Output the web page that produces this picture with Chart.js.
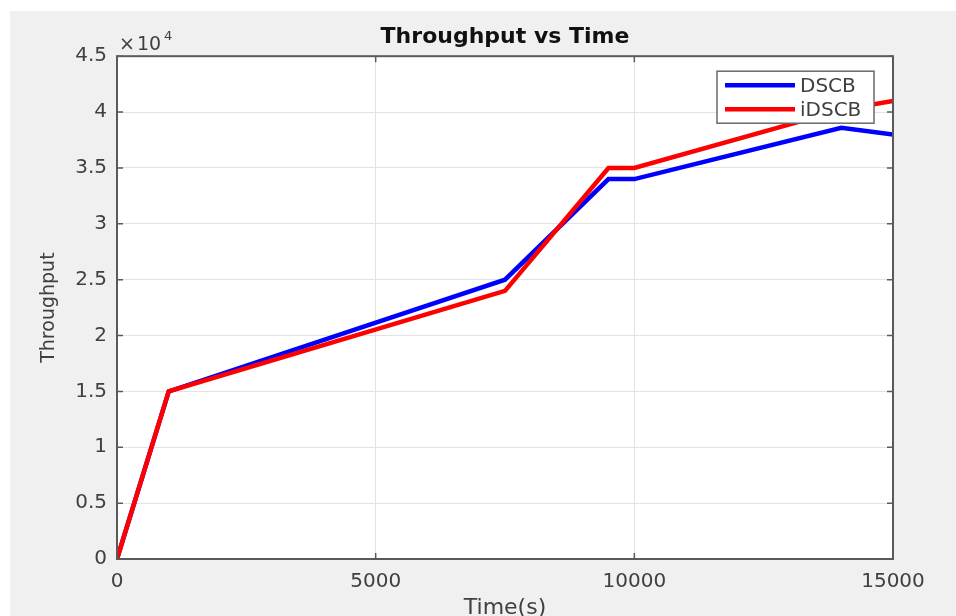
<!DOCTYPE html>
<html>
<head>
<meta charset="utf-8">
<script src="https://cdn.jsdelivr.net/npm/chart.js@4.4.1/dist/chart.umd.min.js"></script>
<style>
  html, body { margin: 0; padding: 0; background: #ffffff; }
  #wrap { width: 956px; height: 616px; }
</style>
</head>
<body>
<div id="wrap"><canvas id="tpChart" width="956" height="616"></canvas></div>
<script>
// values
const timePoints = [0, 1000, 7500, 9500, 10000, 14000, 15000];
const dscbValues = [0, 15000, 25000, 34000, 34000, 38600, 38000];
const idscbValues = [0, 15000, 24000, 35000, 35000, 40200, 41000];
const seriesNames = ['DSCB', 'iDSCB'];
const xTickValues = [0, 5000, 10000, 15000];
const yTickValues = [0, 5000, 10000, 15000, 20000, 25000, 30000, 35000, 40000, 45000];

const tickColor = '#404040';
const boxColor = '#5a5a5a';

function toPoints(xs, ys) {
    return xs.map((x, i) => ({ x: x, y: ys[i] }));
}

// gray figure, white axes, box, inward ticks, exponent and legend (MATLAB look)
const matlabFrame = {
    id: 'matlabFrame',
    beforeDraw(chart) {
        const ctx = chart.ctx;
        const a = chart.chartArea;
        ctx.save();
        ctx.fillStyle = '#f0f0f0';
        ctx.fillRect(10, 11, chart.width - 10, chart.height - 11);
        ctx.fillStyle = '#ffffff';
        ctx.fillRect(a.left, a.top, a.right - a.left, a.bottom - a.top);
        ctx.restore();
    },
    afterDatasetsDraw(chart) {
        const ctx = chart.ctx;
        const a = chart.chartArea;
        const xs = chart.scales.x;
        const ys = chart.scales.y;
        ctx.save();
        ctx.strokeStyle = boxColor;
        ctx.lineWidth = 2;
        ctx.strokeRect(a.left, a.top, a.right - a.left, a.bottom - a.top);
        ctx.lineWidth = 1.5;
        ctx.beginPath();
        xs.ticks.forEach((t) => {
            const px = xs.getPixelForValue(t.value);
            ctx.moveTo(px, a.bottom); ctx.lineTo(px, a.bottom - 6);
            ctx.moveTo(px, a.top); ctx.lineTo(px, a.top + 6);
        });
        ys.ticks.forEach((t) => {
            const py = ys.getPixelForValue(t.value);
            ctx.moveTo(a.left, py); ctx.lineTo(a.left + 6, py);
            ctx.moveTo(a.right, py); ctx.lineTo(a.right - 6, py);
        });
        ctx.stroke();

        // x10^4 exponent
        ctx.fillStyle = tickColor;
        ctx.textBaseline = 'alphabetic';
        ctx.textAlign = 'left';
        ctx.font = '19px "DejaVu Sans"';
        ctx.fillText('\u00d7', a.left + 2, a.top - 6);
        ctx.fillText('10', a.left + 20, a.top - 6);
        ctx.font = '13px "DejaVu Sans"';
        ctx.fillText('4', a.left + 47, a.top - 16);

        // legend box
        const bw = 157, bh = 52;
        const bx = a.right - 19 - bw;
        const by = a.top + 15;
        ctx.fillStyle = '#ffffff';
        ctx.fillRect(bx, by, bw, bh);
        ctx.strokeStyle = '#6a6a6a';
        ctx.lineWidth = 1.5;
        ctx.strokeRect(bx, by, bw, bh);
        ctx.font = '20px "DejaVu Sans"';
        ctx.textBaseline = 'middle';
        chart.data.datasets.forEach((ds, i) => {
            const ly = by + 14 + i * 24;
            ctx.strokeStyle = ds.borderColor;
            ctx.lineWidth = 4.5;
            ctx.beginPath();
            ctx.moveTo(bx + 8, ly);
            ctx.lineTo(bx + 78, ly);
            ctx.stroke();
            ctx.fillStyle = tickColor;
            ctx.fillText(ds.label, bx + 83, ly + 2);
        });
        ctx.restore();
    }
};

new Chart(document.getElementById('tpChart').getContext('2d'), {
    type: 'line',
    data: {
        datasets: [{
            label: seriesNames[0],
            data: toPoints(timePoints, dscbValues),
            borderColor: '#0000ff',
            borderWidth: 4.5,
            pointRadius: 0,
            tension: 0,
            order: 1
        }, {
            label: seriesNames[1],
            data: toPoints(timePoints, idscbValues),
            borderColor: '#ff0000',
            borderWidth: 4.5,
            pointRadius: 0,
            tension: 0,
            order: 0
        }]
    },
    options: {
        responsive: false,
        animation: false,
        layout: { padding: { left: 0, right: 63, top: 11, bottom: 0 } },
        plugins: {
            legend: { display: false },
            tooltip: { enabled: false },
            title: {
                display: true,
                text: 'Throughput vs Time',
                fullSize: false,
                color: '#111111',
                font: { family: 'DejaVu Sans', size: 22, weight: 'bold', lineHeight: 1.1 },
                padding: { top: 14, bottom: 7 }
            }
        },
        scales: {
            x: {
                type: 'linear',
                min: 0,
                max: 15000,
                afterBuildTicks: (scale) => { scale.ticks = xTickValues.map((v) => ({ value: v })); },
                afterFit: (scale) => { scale.height = 57; },
                grid: { color: '#e3e3e3', lineWidth: 1, drawTicks: false },
                border: { display: false },
                ticks: {
                    color: tickColor,
                    padding: 11,
                    maxRotation: 0,
                    font: { family: 'DejaVu Sans', size: 20 },
                    callback: (v) => String(v)
                },
                title: {
                    display: true,
                    text: 'Time(s)',
                    color: tickColor,
                    font: { family: 'DejaVu Sans', size: 22, lineHeight: 1 },
                    padding: { top: 0, bottom: -3 }
                }
            },
            y: {
                type: 'linear',
                min: 0,
                max: 45000,
                afterBuildTicks: (scale) => { scale.ticks = yTickValues.map((v) => ({ value: v })); },
                afterFit: (scale) => { scale.width = 117; },
                grid: { color: '#e3e3e3', lineWidth: 1, drawTicks: false },
                border: { display: false },
                ticks: {
                    color: tickColor,
                    padding: 10,
                    font: { family: 'DejaVu Sans', size: 20 },
                    callback: (v) => String(v / 10000)
                },
                title: {
                    display: true,
                    text: 'Throughput',
                    color: tickColor,
                    font: { family: 'DejaVu Sans', size: 19, lineHeight: 1 },
                    padding: { top: 40, bottom: 0 }
                }
            }
        }
    },
    plugins: [matlabFrame]
});
</script>
</body>
</html>
